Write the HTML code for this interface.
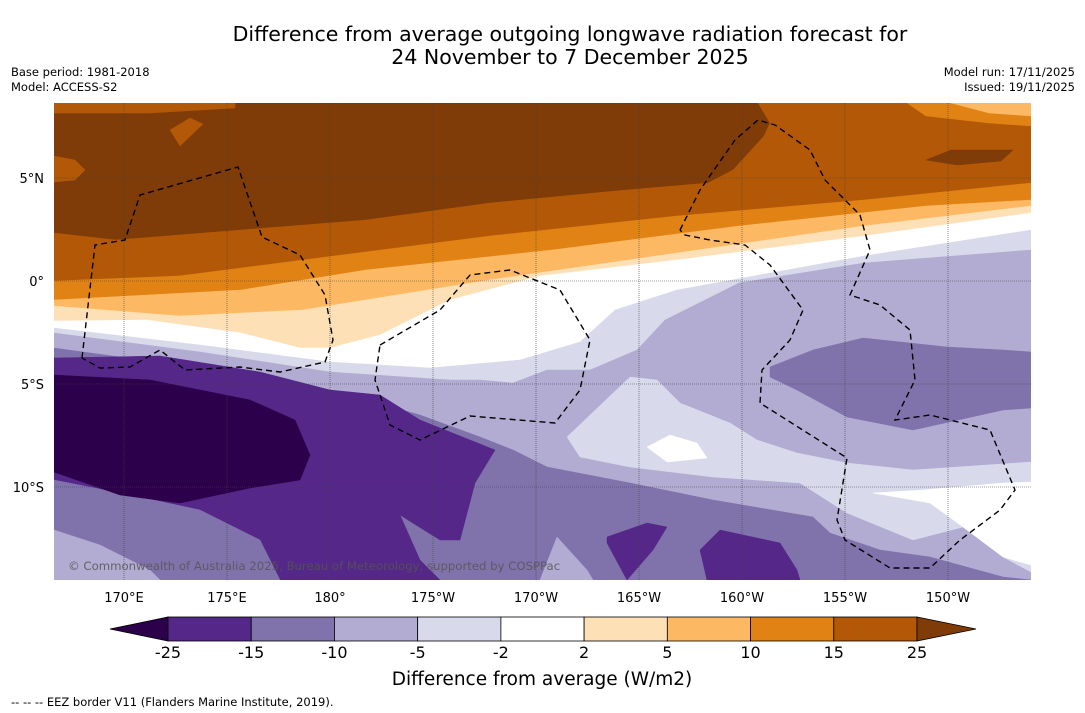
<!DOCTYPE html>
<html><head><meta charset="utf-8">
<style>
body{margin:0;background:#fff;width:1085px;height:713px;overflow:hidden;font-family:"DejaVu Sans","Liberation Sans",sans-serif;}
svg{position:absolute;left:0;top:0}
</style></head>
<body>
<svg id="chart" width="1085" height="713">
<text x="570" y="41" font-size="20.5" text-anchor="middle">Difference from average outgoing longwave radiation forecast for</text>
<text x="570" y="64" font-size="20.5" text-anchor="middle">24 November to 7 December 2025</text>
<text x="11" y="76" font-size="11.5">Base period: 1981-2018</text>
<text x="11" y="91" font-size="11.5">Model: ACCESS-S2</text>
<text x="1075" y="76" font-size="11.5" text-anchor="end">Model run: 17/11/2025</text>
<text x="1075" y="91" font-size="11.5" text-anchor="end">Issued: 19/11/2025</text>
<defs><clipPath id="mapclip"><rect x="54" y="103" width="977" height="477"/></clipPath></defs>
<g id="map" clip-path="url(#mapclip)"></g>
<g id="axes"></g>
<g id="cbar"></g>
<text x="542" y="685" font-size="18.5" text-anchor="middle">Difference from average (W/m2)</text>
<text x="11" y="706" font-size="11.5">-- -- -- EEZ border V11 (Flanders Marine Institute, 2019).</text>
</svg>
<script>
// colour scale data
const levels=[-25,-15,-10,-5,-2,2,5,10,15,25];
const bandColors=['#2d004b','#542788','#8073ac','#b2abd2','#d8daeb','#ffffff','#fee0b6','#fdb863','#e08214','#b35806','#7f3b08'];
// axis ticks
const lonTicks=[170,175,180,185,190,195,200,205,210];
const lonLabels=['170°E','175°E','180°','175°W','170°W','165°W','160°W','155°W','150°W'];
const latTicks=[5,0,-5,-10];
const latLabels=['5°N','0°','5°S','10°S'];

const X=lon=>124+(lon-170)*20.6;
const Y=lat=>281-lat*20.6;
const NS='http://www.w3.org/2000/svg';
function mk(tag,attrs,parent){const e=document.createElementNS(NS,tag);for(const k in attrs)e.setAttribute(k,attrs[k]);parent.appendChild(e);return e;}
const map=document.getElementById('map');
// contour shapes (pixel geometry of filled contour regions), color index into bandColors
const L=54,R=1031,B=580,T=103;
const shapes=[
 [10,[[L,T],[R,T],[R,B],[L,B]]],
 [9,[[L,233],[116,240],[241,230],[366,220],[490,203],[615,191],[708,183],[733,170],[764,136],[770,123],[758,T],[R,T],[R,B],[L,B]]],
 [9,[[L,T],[235,T],[235,108],[150,113],[L,113]]],
 [9,[[L,156],[75,160],[85,170],[75,180],[L,182]]],
 [9,[[170,130],[190,118],[203,124],[180,146]]],
 [8,[[907,T],[926,116],[989,123],[R,126],[R,T]]],
 [7,[[951,T],[989,113],[R,116],[R,T]]],
 [10,[[926,160],[951,150],[1013,150],[1001,161],[957,165]]],
 [8,[[L,281],[179,276],[303,260],[490,236],[677,216],[864,200],[R,183],[R,B],[L,B]]],
 [7,[[L,300],[241,290],[366,270],[552,250],[739,226],[926,206],[R,200],[R,B],[L,B]]],
 [6,[[L,306],[179,316],[303,310],[490,280],[677,253],[864,226],[R,206],[R,B],[L,B]]],
 [5,[[L,321],[147,320],[241,333],[300,348],[330,348],[380,335],[450,300],[540,276],[677,260],[864,236],[R,213],[R,B],[L,B]]],
 [4,[[L,328],[200,345],[330,362],[430,368],[520,360],[580,342],[615,310],[677,290],[864,256],[R,230],[R,B],[L,B]]],
 [3,[[L,333],[200,352],[330,372],[450,380],[480,380],[513,383],[547,370],[590,370],[637,350],[665,320],[739,283],[864,263],[R,250],[R,B],[L,B]]],
 [4,[[567,437],[630,377],[657,380],[680,403],[730,423],[757,440],[797,453],[847,463],[913,470],[R,462],[R,572],[1003,557],[963,527],[913,540],[847,513],[800,483],[713,477],[630,467],[580,457]]],
 [5,[[873,493],[923,490],[1003,483],[R,482],[R,565],[1003,557],[963,527],[930,503]]],
 [5,[[647,447],[670,435],[697,443],[707,458],[667,462]]],
 [2,[[770,367],[813,350],[863,338],[947,347],[1003,350],[R,352],[R,408],[1003,410],[913,430],[847,417],[797,390],[770,377]]],
 [2,[[L,348],[200,368],[330,390],[420,415],[480,437],[513,450],[547,467],[630,483],[713,500],[813,517],[830,533],[880,550],[930,557],[1003,577],[R,580],[R,B],[L,B]]],
 [1,[[L,358],[160,356],[260,372],[330,390],[380,395],[420,420],[470,440],[495,450],[475,483],[460,540],[440,540],[400,515],[420,560],[440,B],[L,B]]],
 [2,[[L,480],[130,495],[200,510],[260,540],[280,B],[L,B]]],
 [3,[[L,530],[100,545],[150,570],[160,B],[L,B]]],
 [3,[[540,B],[557,537],[587,570],[593,B]]],
 [0,[[L,375],[150,380],[250,400],[295,420],[310,455],[300,480],[250,488],[180,503],[120,495],[L,472]]],
 [1,[[607,537],[647,523],[667,527],[653,550],[627,B],[607,543]]],
 [1,[[700,550],[720,530],[780,543],[797,570],[800,B],[707,B]]]
];
shapes.forEach((s,i)=>{
 const p=mk('polygon',{points:s[1].map(q=>q.join(',')).join(' '),fill:bandColors[s[0]],stroke:bandColors[s[0]],'stroke-width':0.5},map);
 
 
});
// grid
lonTicks.forEach((lon,i)=>{
 const l=mk('line',{x1:X(lon),x2:X(lon),y1:T,y2:B,stroke:'#444','stroke-width':0.6,'stroke-dasharray':'1,1'},map);
 
 
});
latTicks.forEach(lat=>{
 const l=mk('line',{x1:L,x2:R,y1:Y(lat),y2:Y(lat),stroke:'#444','stroke-width':0.6,'stroke-dasharray':'1,1'},map);
 
 
});
// EEZ borders
const eez=[
 [[82,358],[95,245],[125,240],[140,195],[238,167],[262,237],[300,255],[325,295],[333,340],[325,362],[280,372],[240,367],[185,370],[160,350],[130,367],[100,368],[82,358]],
 [[380,345],[440,310],[470,275],[510,270],[560,290],[590,340],[580,390],[555,423],[470,416],[420,440],[390,425],[375,380],[380,345]],
 [[680,230],[700,190],[735,140],[758,120],[775,125],[810,150],[825,180],[860,215],[870,250],[850,295],[880,305],[910,330],[915,380],[895,420],[930,415],[990,430],[1015,490],[1000,510],[960,540],[930,568],[890,568],[845,540],[837,520],[847,458],[760,403],[762,370],[790,340],[803,310],[770,265],[745,245],[710,240],[685,235],[680,230]]
];
eez.forEach(e=>{
 const p=mk('polyline',{points:e.map(q=>q.join(',')).join(' '),fill:'none',stroke:'#000','stroke-width':1.4,'stroke-dasharray':'6,4'},map);
 
 
});
const cr=mk('text',{x:68,y:570,'font-size':11.7,fill:'#555','fill-opacity':0.85},map);
cr.textContent='© Commonwealth of Australia 2025, Bureau of Meteorology, supported by COSPPac';


// axis labels
const axes=document.getElementById('axes');
lonTicks.forEach((lon,i)=>{
 const t=mk('text',{x:X(lon),y:602,'font-size':13,'text-anchor':'middle'},axes);
 t.textContent=lonLabels[i];
 
 
});
latTicks.forEach((lat,i)=>{
 const t=mk('text',{x:44,y:Y(lat)+5,'font-size':13,'text-anchor':'end'},axes);
 t.textContent=latLabels[i];
 
 
});
// colorbar
const cb=document.getElementById('cbar');
const cx0=168,cx1=917,cy=617,ch=24;
const cw=(cx1-cx0)/(levels.length-1);
const lt=mk('polygon',{points:`110,${cy+ch/2} ${cx0},${cy} ${cx0},${cy+ch}`,fill:bandColors[0],stroke:'#000','stroke-width':0.8},cb);


for(let i=0;i<levels.length-1;i++){
 const r=mk('rect',{x:cx0+i*cw,y:cy,width:cw,height:ch,fill:bandColors[i+1],stroke:'#000','stroke-width':0.8},cb);
 
 
}
const rt=mk('polygon',{points:`976,${cy+ch/2} ${cx1},${cy} ${cx1},${cy+ch}`,fill:bandColors[10],stroke:'#000','stroke-width':0.8},cb);


levels.forEach((v,i)=>{
 const t=mk('text',{x:cx0+i*cw,y:658,'font-size':16,'text-anchor':'middle'},cb);
 t.textContent=v;
 
 
});
</script>
</body></html>
